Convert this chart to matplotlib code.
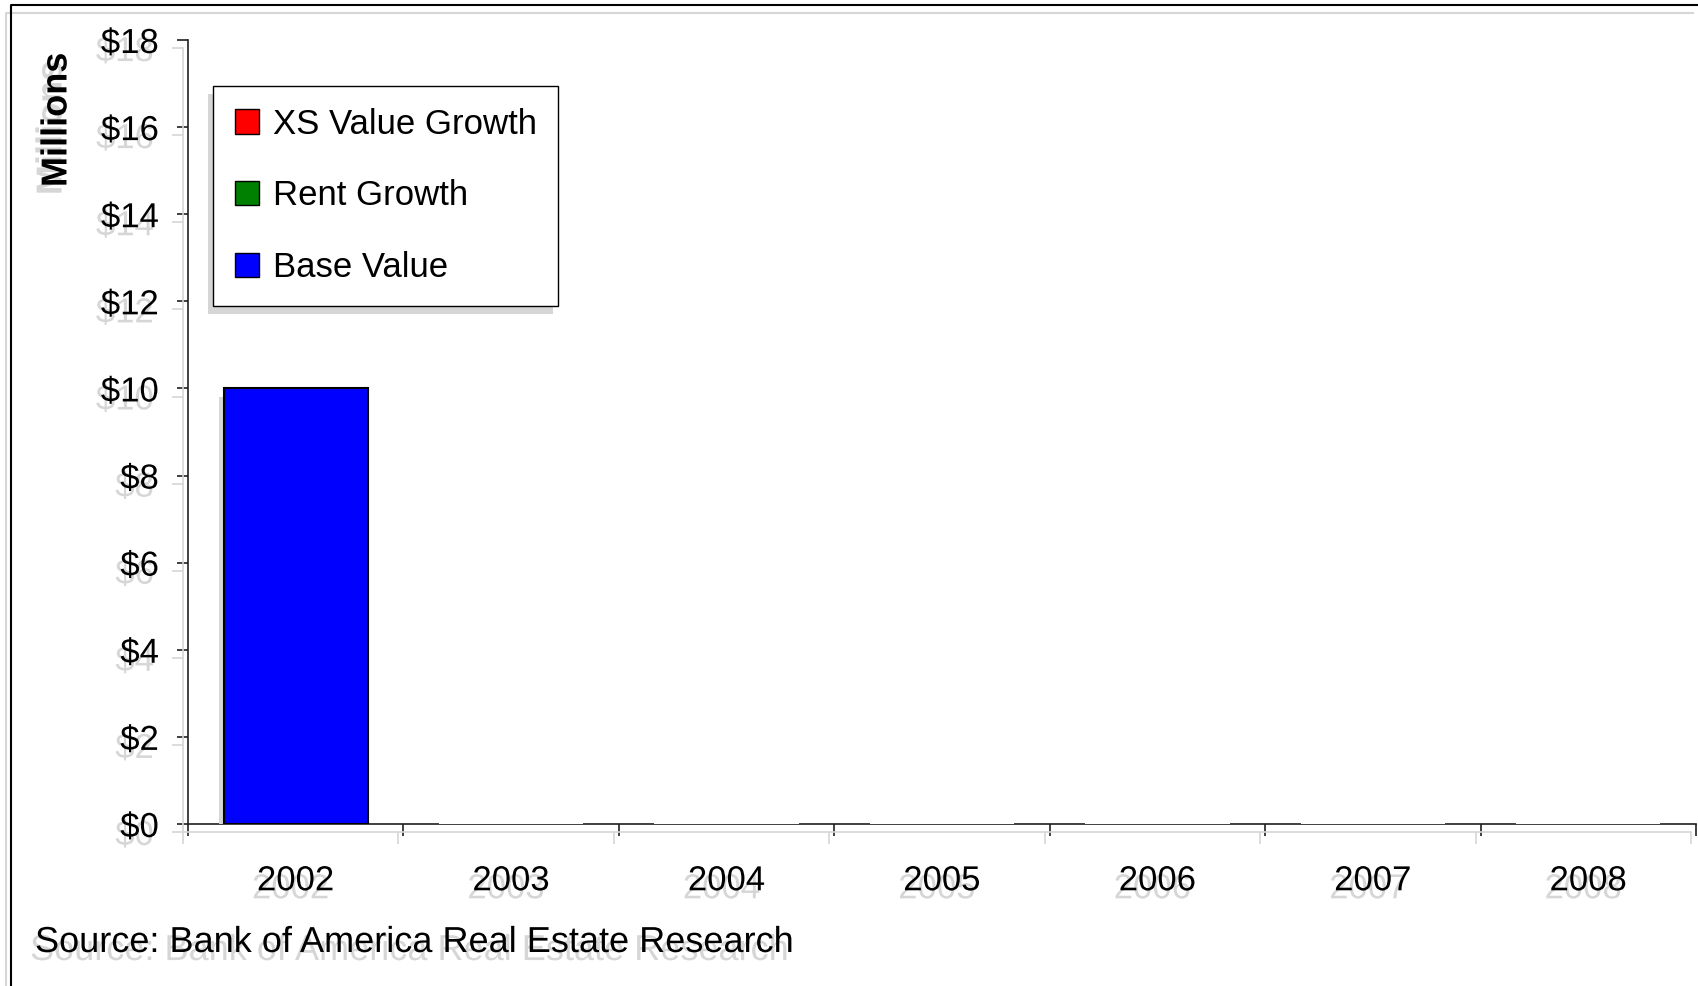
import matplotlib
matplotlib.use("Agg")
import matplotlib.pyplot as plt
import matplotlib.patheffects as pe
from matplotlib.patches import Patch
from matplotlib.lines import Line2D
import numpy as np

# data (millions of dollars)
years = ["2002", "2003", "2004", "2005", "2006", "2007", "2008"]
base_value = [10, 0, 0, 0, 0, 0, 0]
rent_growth = [0, 0, 0, 0, 0, 0, 0]
xs_value_growth = [0, 0, 0, 0, 0, 0, 0]
y_ticks = [0, 2, 4, 6, 8, 10, 12, 14, 16, 18]
y_tick_labels = ["$" + str(v) for v in y_ticks]
legend_labels = ["XS Value Growth", "Rent Growth", "Base Value"]
source_text = "Source: Bank of America Real Estate Research"

plt.rcParams['font.family'] = ['Liberation Sans', 'DejaVu Sans']

W, H = 1698, 986
SHADOW = '#d6d6d6'
OFF = (-3.6, -5.8)


def shadow():
    # grey copy offset left/down, like the old excel drop shadow
    return [pe.withSimplePatchShadow(offset=OFF, shadow_rgbFace=SHADOW, alpha=1.0)]


def line_shadow():
    return [pe.SimpleLineShadow(offset=OFF, shadow_color=SHADOW, alpha=1.0), pe.Normal()]


fig = plt.figure(figsize=(W / 100, H / 100), dpi=100)

# outer frame (left and top only visible)
fig.add_artist(Line2D([11 / W, 11 / W, 1], [0, 1 - 5 / H, 1 - 5 / H],
                      transform=fig.transFigure, color='black', lw=1.5,
                      path_effects=line_shadow(), zorder=0))

ax = fig.add_axes([188 / W, 1 - 824 / H, (1696 - 188) / W, (824 - 40) / H])
ax.patch.set_visible(False)

x = np.arange(len(years))
ax.set_xlim(-0.5, len(years) - 0.5)
ax.set_ylim(0, 18)

# stacked bars
base = np.array(base_value, dtype=float)
rent = np.array(rent_growth, dtype=float)
xs = np.array(xs_value_growth, dtype=float)

base_edges = ['black' if v > 0 else 'white' for v in base]
base_lw = [1.5 if v > 0 else 3 for v in base]
bars = ax.bar(x, base, width=0.67, color='#0000ff', edgecolor=base_edges,
              linewidth=base_lw, zorder=3)
for b in bars:
    b.set_path_effects(shadow())

for vals, bottom, col in [(rent, base, '#008000'), (xs, base + rent, '#ff0000')]:
    edges = ['black' if v > 0 else 'none' for v in vals]
    bs = ax.bar(x, vals, bottom=bottom, width=0.67, color=col, edgecolor=edges,
                linewidth=1.5, zorder=3)
    for b, v in zip(bs, vals):
        if v > 0:
            b.set_path_effects(shadow())

# axes look
for s in ['top', 'right']:
    ax.spines[s].set_visible(False)
for s in ['left', 'bottom']:
    ax.spines[s].set_color('#202020')
    ax.spines[s].set_linewidth(1.2)
    ax.spines[s].set_path_effects(line_shadow())

ax.set_xticks(np.arange(-0.5, len(years)))
ax.set_xticks(x, minor=True)
ax.set_xticklabels(years, minor=True)
ax.tick_params(axis='x', which='major', length=8.5, width=1.2, color='#202020',
               labelbottom=False)
ax.tick_params(axis='x', which='minor', length=0, pad=29, labelsize=25)

ax.set_yticks(y_ticks)
ax.set_yticklabels(y_tick_labels)
ax.tick_params(axis='y', length=8, width=1.2, color='#202020', pad=13, labelsize=25)

for t in ax.xaxis.get_major_ticks() + ax.yaxis.get_major_ticks():
    t.tick1line.set_path_effects(line_shadow())
for t in ax.xaxis.get_minor_ticks() + ax.yaxis.get_major_ticks():
    t.label1.set_path_effects(shadow())

# legend
handles = [Patch(facecolor='#ff0000', edgecolor='black', label=legend_labels[0]),
           Patch(facecolor='#008000', edgecolor='black', label=legend_labels[1]),
           Patch(facecolor='#0000ff', edgecolor='black', label=legend_labels[2])]
leg = ax.legend(handles=handles, loc='upper left',
                bbox_to_anchor=(213 / W, 1 - 303 / H, 345 / W, 217 / H),
                bbox_transform=fig.transFigure, mode='expand',
                fontsize=25, fancybox=False, edgecolor='black', framealpha=1,
                borderpad=0.62, labelspacing=1.12, handlelength=0.7,
                handleheight=0.7, handletextpad=0.4, borderaxespad=0)
leg.get_frame().set_linewidth(1.0)
leg.get_frame().set_path_effects(shadow())
leg.set_zorder(5)

# y label and source
fig.text(57 / W, 1 - 120 / H, "Millions", rotation=90, fontsize=26, fontweight='bold',
         ha='center', va='center', path_effects=shadow())
fig.text(35 / W, 1 - 952 / H, source_text, fontsize=26, ha='left', va='baseline',
         path_effects=shadow())

fig.savefig("out.png", dpi=100)
